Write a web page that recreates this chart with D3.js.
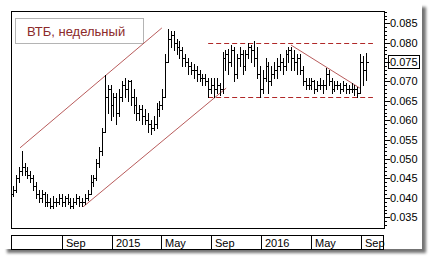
<!DOCTYPE html>
<meta charset="utf-8">
<style>
body { margin: 0; background: #fff; }
svg { font-family: "Liberation Sans", Arial, sans-serif; }
</style>
<body>
<svg id="chart" width="431" height="263"></svg>
<script src="https://d3js.org/d3.v7.min.js"></script>
<script>
// weekly bars, starting from this week
var title = "ВТБ, недельный";
var firstWeek = "2014-05-05";
var opens = [0.041,0.042,0.045,0.047,0.048,0.047,0.046,0.045,0.043,0.041,
  0.040,0.041,0.039,0.039,0.038,0.039,0.039,0.040,0.039,0.040,
  0.039,0.038,0.039,0.040,0.039,0.039,0.040,0.041,0.044,0.045,
  0.049,0.052,0.057,0.066,0.068,0.064,0.066,0.062,0.066,0.069,
  0.068,0.070,0.066,0.064,0.062,0.063,0.061,0.060,0.059,0.058,
  0.059,0.063,0.064,0.066,0.075,0.081,0.082,0.080,0.079,0.078,
  0.076,0.075,0.074,0.073,0.073,0.072,0.071,0.071,0.070,0.068,
  0.069,0.068,0.069,0.068,0.076,0.077,0.075,0.078,0.072,0.076,
  0.077,0.074,0.077,0.079,0.078,0.076,0.072,0.068,0.071,0.074,
  0.070,0.072,0.073,0.074,0.075,0.074,0.077,0.078,0.076,0.075,
  0.076,0.073,0.070,0.069,0.069,0.070,0.068,0.069,0.069,0.069,
  0.072,0.070,0.068,0.069,0.069,0.068,0.069,0.068,0.068,0.068,
  0.068,0.067,0.075,0.073];
var highs = [0.043,0.046,0.048,0.052,0.049,0.048,0.047,0.046,0.044,0.042,
  0.042,0.0415,0.041,0.040,0.0405,0.040,0.041,0.041,0.0405,0.041,
  0.040,0.040,0.041,0.0405,0.040,0.041,0.042,0.046,0.046,0.050,
  0.053,0.058,0.0717,0.069,0.069,0.067,0.067,0.068,0.070,0.071,
  0.0705,0.0705,0.068,0.066,0.064,0.064,0.063,0.062,0.060,0.061,
  0.0645,0.065,0.068,0.077,0.0835,0.083,0.083,0.081,0.0805,0.079,
  0.077,0.076,0.075,0.0745,0.074,0.073,0.072,0.072,0.071,0.071,
  0.071,0.071,0.0695,0.0775,0.078,0.0785,0.0795,0.079,0.077,0.079,
  0.078,0.078,0.080,0.0795,0.0805,0.079,0.074,0.073,0.076,0.075,
  0.074,0.075,0.076,0.077,0.076,0.078,0.0788,0.079,0.078,0.077,
  0.077,0.074,0.071,0.071,0.071,0.0705,0.070,0.071,0.0705,0.0735,
  0.073,0.071,0.070,0.070,0.0695,0.070,0.0695,0.069,0.0695,0.069,
  0.0685,0.077,0.0765,0.0773];
var lows = [0.0405,0.0415,0.044,0.046,0.046,0.045,0.044,0.042,0.040,0.039,
  0.039,0.038,0.038,0.0374,0.0375,0.038,0.0385,0.038,0.038,0.0385,
  0.0375,0.0375,0.0385,0.038,0.0378,0.0385,0.0395,0.041,0.043,0.0445,
  0.048,0.051,0.057,0.062,0.060,0.061,0.059,0.061,0.065,0.066,
  0.065,0.064,0.062,0.060,0.060,0.059,0.059,0.057,0.0565,0.0575,
  0.058,0.061,0.063,0.066,0.075,0.079,0.078,0.077,0.076,0.074,
  0.074,0.072,0.072,0.071,0.070,0.070,0.069,0.069,0.066,0.067,
  0.066,0.067,0.0665,0.067,0.073,0.072,0.074,0.070,0.071,0.074,
  0.072,0.073,0.076,0.075,0.074,0.071,0.066,0.067,0.070,0.067,
  0.069,0.071,0.071,0.073,0.072,0.073,0.075,0.073,0.073,0.072,
  0.072,0.069,0.068,0.068,0.068,0.067,0.0675,0.068,0.067,0.068,
  0.069,0.067,0.0675,0.068,0.067,0.0675,0.067,0.067,0.0672,0.0665,
  0.066,0.067,0.069,0.0704];
var closes = [0.042,0.045,0.047,0.048,0.047,0.046,0.045,0.043,0.041,0.040,
  0.041,0.039,0.039,0.038,0.039,0.039,0.040,0.039,0.040,0.039,
  0.038,0.039,0.040,0.039,0.039,0.040,0.041,0.044,0.045,0.049,
  0.052,0.057,0.066,0.068,0.064,0.066,0.062,0.066,0.069,0.068,
  0.070,0.066,0.064,0.062,0.063,0.061,0.060,0.059,0.058,0.059,
  0.063,0.064,0.066,0.075,0.081,0.082,0.080,0.079,0.078,0.076,
  0.075,0.074,0.073,0.073,0.072,0.071,0.071,0.070,0.068,0.069,
  0.068,0.069,0.068,0.076,0.077,0.075,0.078,0.072,0.076,0.077,
  0.074,0.077,0.079,0.078,0.076,0.072,0.068,0.071,0.074,0.070,
  0.072,0.073,0.074,0.075,0.074,0.077,0.078,0.076,0.075,0.076,
  0.073,0.070,0.069,0.069,0.070,0.068,0.069,0.069,0.069,0.072,
  0.070,0.068,0.069,0.069,0.068,0.069,0.068,0.068,0.068,0.068,
  0.067,0.075,0.073,0.075];
var lastValue = 0.075;
var yTicks = [0.035,0.040,0.045,0.050,0.055,0.060,0.065,0.070,0.075,0.080,0.085];

// channel / trend lines, [date, value] pairs
var trendLines = [
  [["2014-05-22",0.0529],["2015-05-03",0.0838]],
  [["2014-10-23",0.0377],["2015-10-07",0.0683]],
  [["2016-03-13",0.0794],["2016-08-28",0.0683]]
];
var levels = [0.0798, 0.0661];
var levelSpan = ["2015-08-24","2016-09-29"];

var parse = d3.timeParse("%Y-%m-%d");
var svg = d3.select("#chart");

var pLeft = 11, pRight = 384, pTop = 11, pBottom = 228;

var x = d3.scaleTime()
  .domain([parse("2014-04-30"), parse("2016-10-26")])
  .range([pLeft, pRight]);
var y = d3.scaleLinear()
  .domain([0.03224, 0.08817])
  .range([pBottom, pTop]);

// panel with drop shadow
var defs = svg.append("defs");
var f = defs.append("filter").attr("id","sh").attr("x","-5%").attr("y","-5%").attr("width","115%").attr("height","120%");
f.append("feGaussianBlur").attr("in","SourceAlpha").attr("stdDeviation",1.8);
f.append("feOffset").attr("dx",4).attr("dy",4).attr("result","b");
f.append("feComponentTransfer").append("feFuncA").attr("type","linear").attr("slope",0.55);
var m = f.append("feMerge");
m.append("feMergeNode");
m.append("feMergeNode").attr("in","SourceGraphic");

svg.append("rect").attr("x",3).attr("y",3).attr("width",419).attr("height",246)
  .attr("fill","#fff").attr("filter","url(#sh)");

// plot frame
svg.append("rect").attr("x",pLeft+0.5).attr("y",pTop+0.5)
  .attr("width",pRight-pLeft).attr("height",pBottom-pTop)
  .attr("fill","#fff").attr("stroke","#000");

// legend
svg.append("rect").attr("x",15.5).attr("y",18.5).attr("width",128).attr("height",25)
  .attr("fill","#fff").attr("stroke","#b4b4b4");
svg.append("text").attr("x",27).attr("y",35.5).attr("font-size",13)
  .attr("fill","#8b2a2a").text(title);

// levels
var s0 = parse(levelSpan[0]), s1 = parse(levelSpan[1]);
svg.selectAll(".level").data(levels).enter().append("line")
  .attr("x1",x(s0)).attr("x2",x(s1))
  .attr("y1",function(d){ return Math.round(y(d))+0.5; })
  .attr("y2",function(d){ return Math.round(y(d))+0.5; })
  .attr("stroke","#b02828").attr("stroke-dasharray","5,3");

// trend lines
svg.selectAll(".trend").data(trendLines).enter().append("line")
  .attr("x1",function(d){ return x(parse(d[0][0])); })
  .attr("y1",function(d){ return y(d[0][1]); })
  .attr("x2",function(d){ return x(parse(d[1][0])); })
  .attr("y2",function(d){ return y(d[1][1]); })
  .attr("stroke","#b04848").attr("stroke-width",0.9);

// bars
var w0 = parse(firstWeek);
var bars = closes.map(function(c,i){
  return {date: d3.timeDay.offset(w0, 7*i), o: opens[i], h: highs[i], l: lows[i], c: c};
});
var g = svg.append("g").attr("stroke","#000").attr("shape-rendering","crispEdges");
bars.forEach(function(d){
  var bx = Math.round(x(d.date)) + 0.5;
  g.append("line").attr("x1",bx).attr("x2",bx).attr("y1",Math.round(y(d.h))).attr("y2",Math.round(y(d.l))+1);
  g.append("line").attr("x1",bx-2).attr("x2",bx).attr("y1",Math.round(y(d.o))+0.5).attr("y2",Math.round(y(d.o))+0.5);
  g.append("line").attr("x1",bx).attr("x2",bx+2).attr("y1",Math.round(y(d.c))+0.5).attr("y2",Math.round(y(d.c))+0.5);
});

// right axis
var minor = d3.range(33, 89).map(function(v){ return v/1000; });
var ax = svg.append("g").attr("shape-rendering","crispEdges");
ax.selectAll(".mn").data(minor).enter().append("line")
  .attr("x1",pRight+1).attr("x2",pRight+3)
  .attr("y1",function(d){ return Math.round(y(d))+0.5; })
  .attr("y2",function(d){ return Math.round(y(d))+0.5; })
  .attr("stroke","#000");
ax.selectAll(".mj").data(yTicks).enter().append("line")
  .attr("x1",pRight+1).attr("x2",pRight+6)
  .attr("y1",function(d){ return Math.round(y(d))+0.5; })
  .attr("y2",function(d){ return Math.round(y(d))+0.5; })
  .attr("stroke","#000");
svg.selectAll(".yl").data(yTicks).enter().append("text")
  .attr("x",pRight+6).attr("y",function(d){ return y(d)+4; })
  .attr("font-size",11).attr("fill","#000")
  .text(d3.format(".3f"));
svg.append("rect").attr("x",pRight+4.5).attr("y",Math.round(y(lastValue))-6.5)
  .attr("width",31).attr("height",13).attr("fill","none").attr("stroke","#000");

// time band
var bandTop = 235, bandBot = 250;
svg.append("rect").attr("x",pLeft+0.5).attr("y",bandTop+0.5)
  .attr("width",pRight-pLeft-1).attr("height",bandBot-bandTop-1)
  .attr("fill","#fff").attr("stroke","#000");
var mt = x.ticks(d3.timeMonth.every(4)).filter(function(d){ return x(d) > pLeft+20 && x(d) < pRight-5; });
var fmt = function(d){ return d.getMonth() === 0 ? d3.timeFormat("%Y")(d) : d3.timeFormat("%b")(d); };
svg.selectAll(".sep").data(mt).enter().append("line")
  .attr("x1",function(d){ return Math.round(x(d))+0.5; })
  .attr("x2",function(d){ return Math.round(x(d))+0.5; })
  .attr("y1",bandTop).attr("y2",bandBot)
  .attr("stroke","#000").attr("shape-rendering","crispEdges");
svg.selectAll(".xl").data(mt).enter().append("text")
  .attr("x",function(d){ return Math.round(x(d))+4; })
  .attr("y",bandBot-3)
  .attr("font-size",11).attr("fill","#000")
  .text(fmt);
</script>
</body>
